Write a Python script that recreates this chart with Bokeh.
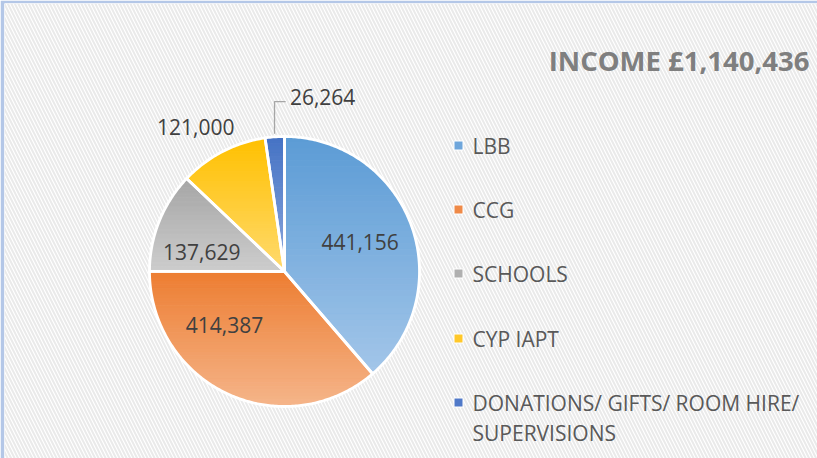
import numpy as np
from bokeh.plotting import figure
from bokeh.models import Range1d, BoxAnnotation
from bokeh.core.properties import value
from bokeh.embed import file_html
from bokeh.resources import INLINE

# ---- data ----
categories = ["LBB", "CCG", "SCHOOLS", "CYP IAPT", "DONATIONS/ GIFTS/ ROOM HIRE/\nSUPERVISIONS"]
amounts = [441156, 414387, 137629, 121000, 26264]
title_text = "INCOME £1,140,436"

# ---- styles ----
top_colors = ["#5B9BD5", "#ED7D31", "#A5A5A5", "#FFC000", "#4472C4"]
bottom_colors = ["#A3C6E9", "#F5B58A", "#CDCDCD", "#FFDA6E", "#8DA8DC"]
legend_colors = ["#6FA6DB", "#EF8A48", "#B0B0B0", "#FFC82A", "#5079C8"]

# layout (pixel coordinates; data y = -pixel y)
W, H = 817, 458
CX, CY, R = 284.0, 271.0, 135.0
# label placement: angle (deg clockwise from 12 o'clock), distance from centre in px
label_polar = [(69.0, 81.0), (228.5, 80.0), (283.0, 85.0), (328.5, 170.0), (12.3, 179.0)]

p = figure(width=W, height=H, output_backend="svg", toolbar_location=None,
           x_range=Range1d(4, W), y_range=Range1d(-H, -3),
           min_border_left=4, min_border_top=3, min_border_right=0, min_border_bottom=0,
           title=None)
p.axis.visible = False
p.grid.visible = False
p.outline_line_color = None
p.background_fill_color = "white"
p.border_fill_color = "#B4C7E7"

# hatch background
p.add_layout(BoxAnnotation(fill_color="white", fill_alpha=1.0, line_color=None,
                           hatch_pattern="left_diagonal_line", hatch_color="#EAEAEA",
                           hatch_scale=7, hatch_weight=2.0, level="underlay"))


def hex2rgb(h):
    h = h.lstrip("#")
    return np.array([int(h[i:i + 2], 16) for i in (0, 2, 4)], dtype=float)


def rgb2hex(c):
    c = np.clip(np.round(c), 0, 255).astype(int)
    return "#%02x%02x%02x" % tuple(c)


def polar(theta_deg, r):
    t = np.radians(theta_deg)
    return CX + r * np.sin(t), -CY + r * np.cos(t)


def clip_half(poly, keep):
    out = []
    n = len(poly)
    for i in range(n):
        a, b = poly[i], poly[(i + 1) % n]
        fa, fb = keep(a), keep(b)
        if fa >= 0:
            out.append(a)
        if (fa >= 0) != (fb >= 0):
            t = fa / (fa - fb)
            out.append((a[0] + t * (b[0] - a[0]), a[1] + t * (b[1] - a[1])))
    return out


total = float(sum(amounts))
starts, ends = [], []
acc = 0.0
for v in amounts:
    starts.append(acc / total * 360.0)
    acc += v
    ends.append(acc / total * 360.0)

strip_xs, strip_ys, strip_cols = [], [], []
outline_xs, outline_ys = [], []
NSTRIP = 40
for i in range(len(amounts)):
    a0, a1 = starts[i], ends[i]
    n = max(6, int((a1 - a0) / 0.75) + 2)
    th = np.linspace(a0, a1, n)
    px, py = polar(th, R)
    poly = [(CX, -CY)] + list(zip(px, py))
    outline_xs.append([q[0] for q in poly])
    outline_ys.append([q[1] for q in poly])
    ymax = max(q[1] for q in poly)
    ymin = min(q[1] for q in poly)
    c0, c1 = hex2rgb(top_colors[i]), hex2rgb(bottom_colors[i])
    edges = np.linspace(ymax, ymin, NSTRIP + 1)
    for k in range(NSTRIP):
        yt, yb = edges[k], edges[k + 1]
        sub = clip_half(poly, lambda q, yt=yt: yt - q[1])
        if len(sub) < 3:
            continue
        sub = clip_half(sub, lambda q, yb=yb: q[1] - yb)
        if len(sub) < 3:
            continue
        t = (k + 0.5) / NSTRIP
        strip_xs.append([q[0] for q in sub])
        strip_ys.append([q[1] for q in sub])
        strip_cols.append(rgb2hex(c0 + (c1 - c0) * t))

p.patches(strip_xs, strip_ys, fill_color=strip_cols, line_color=strip_cols, line_width=1)
p.patches(outline_xs, outline_ys, fill_alpha=0, line_color="white", line_width=2.8,
          line_join="round")

# data labels
lx, ly, ltxt = [], [], []
for i, v in enumerate(amounts):
    ang, dist = label_polar[i]
    x, y = polar(ang, dist)
    lx.append(x)
    ly.append(y)
    ltxt.append(f"{v:,}")
p.text(lx, ly, text=ltxt, text_font=value("Open Sans"), text_font_size="21px",
       text_color="#404040", text_align="center", text_baseline="middle")

# leader line for the smallest slice
mid_small = (starts[4] + ends[4]) / 2
sx, sy = polar(mid_small, R + 3)
p.line([sx, sx, lx[4] - 37], [sy, ly[4] - 5, ly[4] - 5], line_color="#A6A6A6", line_width=1.3)

# title
p.text([809], [-60], text=[title_text], text_font=value("Open Sans"), text_font_size="27.5px",
       text_font_style="bold", text_color="#7F7F7F", text_align="right", text_baseline="middle")

# legend
row_y = [145, 209, 273, 338, 402]
p.scatter([458] * 5, [-y for y in row_y], marker="square", size=9,
          fill_color=legend_colors, line_color="white", line_width=1)
tx, ty, tt = [], [], []
for i, lab in enumerate(categories):
    for j, line in enumerate(lab.split("\n")):
        tx.append(472)
        ty.append(-(row_y[i] + 30 * j))
        tt.append(line)
p.text(tx, ty, text=tt, text_font=value("Open Sans"), text_font_size="21px",
       text_color="#595959", text_align="left", text_baseline="middle")

open("out.html", "w").write(file_html(p, INLINE))
